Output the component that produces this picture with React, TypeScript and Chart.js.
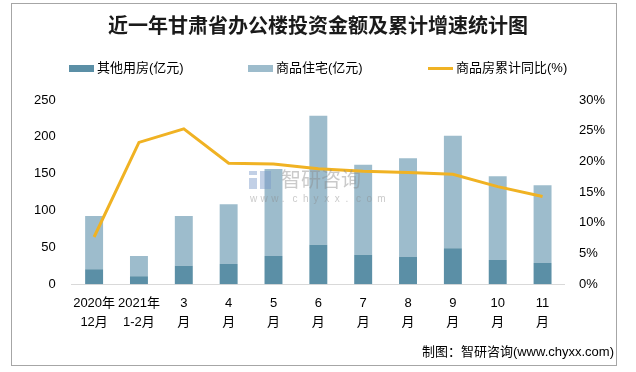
import React, { useEffect, useRef } from "react";
import { Chart, registerables } from "chart.js";

Chart.register(...registerables);

const categories: string[][] = [
  ["2020年", "12月"],
  ["2021年", "1-2月"],
  ["3", "月"],
  ["4", "月"],
  ["5", "月"],
  ["6", "月"],
  ["7", "月"],
  ["8", "月"],
  ["9", "月"],
  ["10", "月"],
  ["11", "月"],
];
const otherValues = [20.5, 11, 25, 27.5, 38.5, 53.5, 40, 37, 49, 33, 29];
const residentialValues = [72, 27.5, 67.5, 81, 118, 175, 122, 134, 152.5, 113.5, 105.5];
const growthValues = [7.7, 23.1, 25.3, 19.7, 19.6, 18.8, 18.4, 18.2, 17.9, 15.9, 14.3];
const leftTicks = [0, 50, 100, 150, 200, 250];
const rightTicks = [0, 5, 10, 15, 20, 25, 30];

const DARK = "rgb(91,143,166)";
const LIGHT = "rgb(157,188,204)";
const LINE = "rgb(240,178,35)";
const FONT = '"Liberation Sans", "Noto Sans CJK SC", sans-serif';

const watermark = {
  id: "watermark",
  afterDatasetsDraw(chart: any) {
    const ctx = chart.ctx;
    ctx.save();
    ctx.globalAlpha = 0.45;
    ctx.fillStyle = "#8a8a8a";
    ctx.font = '20px "Noto Sans CJK SC", sans-serif';
    ctx.textBaseline = "middle";
    ctx.fillText("智研咨询", 281, 179);
    ctx.font = '10px "Liberation Sans", sans-serif';
    const s = "www.chyxx.com";
    let x = 250;
    for (const ch of s) {
      ctx.fillText(ch, x, 199);
      x += 10.6;
    }
    ctx.fillStyle = "rgb(120,150,200)";
    ctx.fillRect(249, 171, 8, 4);
    ctx.fillRect(249, 178, 8, 11);
    ctx.fillRect(260, 171, 11, 18);
    ctx.restore();
  },
};

export default function App() {
  const ref = useRef<HTMLCanvasElement | null>(null);
  useEffect(() => {
    if (!ref.current) return;
    const chart = new Chart(ref.current, {
      type: "bar",
      data: {
        labels: categories,
        datasets: [
          {
            type: "bar",
            label: "其他用房(亿元)",
            data: otherValues,
            backgroundColor: DARK,
            yAxisID: "y",
            stack: "s",
            order: 1,
            barPercentage: 0.4,
            categoryPercentage: 1,
          },
          {
            type: "bar",
            label: "商品住宅(亿元)",
            data: residentialValues,
            backgroundColor: LIGHT,
            yAxisID: "y",
            stack: "s",
            order: 1,
            barPercentage: 0.4,
            categoryPercentage: 1,
          },
          {
            type: "line",
            label: "商品房累计同比(%)",
            data: growthValues,
            borderColor: LINE,
            backgroundColor: LINE,
            borderWidth: 3,
            pointRadius: 0,
            tension: 0,
            yAxisID: "y1",
            order: 0,
          } as any,
        ],
      },
      options: {
        responsive: false,
        animation: false,
        maintainAspectRatio: false,
        layout: { padding: { top: 100, left: 18, right: 17, bottom: 30 } },
        plugins: {
          legend: { display: false },
          title: { display: false },
          tooltip: { enabled: false },
        },
        scales: {
          x: {
            stacked: true,
            grid: { display: false, drawTicks: false },
            border: { display: true, color: "#d9d9d9", width: 1 },
            ticks: {
              color: "#000",
              padding: 10,
              font: { family: FONT, size: 13, lineHeight: 1.45 },
              maxRotation: 0,
              autoSkip: false,
            },
          },
          y: {
            stacked: true,
            position: "left",
            min: 0,
            max: 250,
            afterBuildTicks: (axis: any) => {
              axis.ticks = leftTicks.map((v) => ({ value: v }));
            },
            grid: { display: false, drawTicks: false },
            border: { display: false },
            ticks: {
              color: "#000",
              padding: 16,
              font: { family: FONT, size: 13 },
            },
          },
          y1: {
            position: "right",
            min: 0,
            max: 30,
            afterBuildTicks: (axis: any) => {
              axis.ticks = rightTicks.map((v) => ({ value: v }));
            },
            grid: { display: false, drawTicks: false },
            border: { display: false },
            ticks: {
              color: "#000",
              padding: 14,
              font: { family: FONT, size: 13 },
              callback: (v: any) => v + "%",
            },
          },
        },
      },
      plugins: [watermark],
    });
    return () => chart.destroy();
  }, []);

  const legendItems = [
    { left: 69, label: "其他用房(亿元)", color: DARK, h: 7, top: 65 },
    { left: 248, label: "商品住宅(亿元)", color: LIGHT, h: 7, top: 65 },
    { left: 428, label: "商品房累计同比(%)", color: LINE, h: 3, top: 67 },
  ];

  return (
    <div
      style={{
        position: "fixed",
        left: 0,
        top: 0,
        width: 636,
        height: 372,
        background: "#fff",
        overflow: "hidden",
      }}
    >
      <canvas ref={ref} width={636} height={372} style={{ position: "absolute", left: 0, top: 0 }} />
      <div
        style={{
          position: "absolute",
          left: 11,
          top: 3,
          width: 604,
          height: 361,
          border: "1px solid #a6a6a6",
          pointerEvents: "none",
        }}
      />
      <div
        style={{
          position: "absolute",
          left: 0,
          width: 636,
          top: 11,
          textAlign: "center",
          fontFamily: '"Noto Sans CJK SC", sans-serif',
          fontWeight: 700,
          fontSize: 20,
          lineHeight: "28px",
          color: "#1a1a1a",
        }}
      >
        近一年甘肃省办公楼投资金额及累计增速统计图
      </div>
      {legendItems.map((it) => (
        <div key={it.label}>
          <div
            style={{
              position: "absolute",
              left: it.left,
              top: it.top,
              width: 25,
              height: it.h,
              background: it.color,
            }}
          />
          <div
            style={{
              position: "absolute",
              left: it.left + 28,
              top: 59,
              fontFamily: FONT,
              fontSize: 13,
              lineHeight: "18px",
              color: "#000",
              whiteSpace: "nowrap",
            }}
          >
            {it.label}
          </div>
        </div>
      ))}
      <div
        style={{
          position: "absolute",
          right: 22,
          top: 343,
          fontFamily: FONT,
          fontSize: 13,
          lineHeight: "18px",
          color: "#000",
          whiteSpace: "nowrap",
        }}
      >
        制图：智研咨询(www.chyxx.com)
      </div>
    </div>
  );
}
